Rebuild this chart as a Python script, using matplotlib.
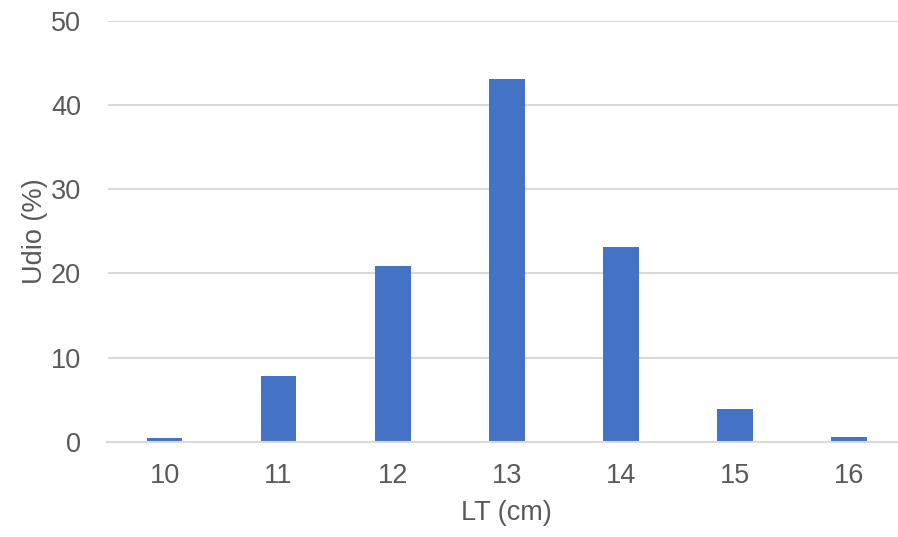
import matplotlib
matplotlib.use("Agg")
import matplotlib.pyplot as plt

categories = ["10", "11", "12", "13", "14", "15", "16"]
values = [0.4, 7.8, 20.9, 43.1, 23.1, 3.9, 0.5]
yticks = [0, 10, 20, 30, 40, 50]

plt.rcParams['font.family'] = ['Liberation Sans', 'DejaVu Sans']

fig = plt.figure(figsize=(8.98, 5.37), dpi=100)
ax = fig.add_axes([107.5/898, 95.3/537, (906-107.5)/898, (441.7-21)/537])

x = list(range(len(categories)))
ax.bar(x, values, width=0.313, color="#4472c4", zorder=3)

ax.set_xlim(-0.5, len(categories) - 0.5)
ax.set_ylim(0, 50)
ax.set_yticks(yticks)
ax.set_xticks(x)
ax.set_xticklabels(categories)

for s in ["top", "right", "left"]:
    ax.spines[s].set_visible(False)
ax.spines["bottom"].set_color("#d9d9d9")
ax.spines["bottom"].set_linewidth(1.5)
ax.spines["bottom"].set_zorder(4)

ax.grid(axis="y", color="#d9d9d9", linewidth=1.5, zorder=0)
ax.tick_params(axis="both", length=0, labelsize=19.5, labelcolor="#595959")
ax.tick_params(axis="y", pad=19)
ax.tick_params(axis="x", pad=15)

ax.set_xlabel("LT (cm)", fontsize=19.5, color="#595959", labelpad=8)
ax.set_ylabel("Udio (%)", fontsize=19.5, color="#595959", labelpad=2)

fig.savefig("out.png", dpi=100)
